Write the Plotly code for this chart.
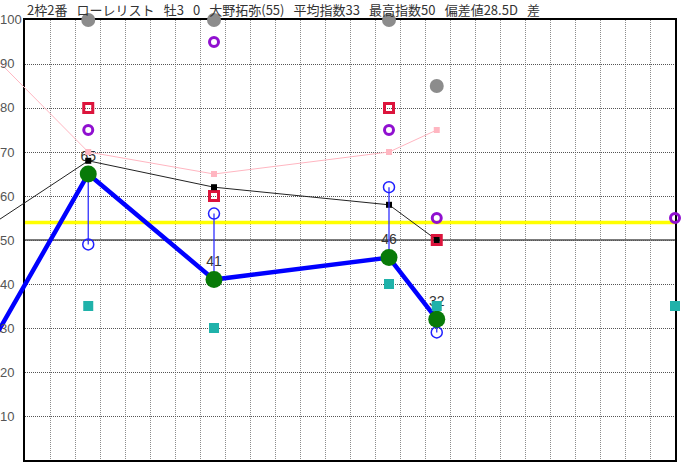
import plotly.graph_objects as go

# ---------------- data ----------------
race_x = [2.53, 7.56, 14.56, 16.47]      # race positions (grid-cell units)
prev_x = -2.0                             # previous race (off the chart, left)
edge_x = 26.0                             # right edge of the chart

index_vals = [65, 41, 46, 32]             # thick blue line / green dots
index_labels = ["65", "41", "46", "32"]
index_prev = 20
blue_open_vals = [49, 56, 62, 29]         # blue hollow circles

black_vals = [68, 62, 58, 50]
black_prev = 51
pink_vals = [70, 65, 70, 75]
pink_prev = 96

red_sq_vals = [80, 60, 80, 50]
purple_x = race_x + [edge_x]
purple_vals = [75, 95, 75, 55, 55]
teal_x = race_x + [edge_x]
teal_vals = [35, 30, 40, 35, 35]
grey_vals = [100, 100, 100, 85]

yellow_level = 54
mid_level = 50
y_ticks = [10, 20, 30, 40, 50, 60, 70, 80, 90, 100]
x_grid = list(range(0, 27))

SP = "\u2002\u2009"
title_text = SP.join(["2枠2番", "ローレリスト", "牡3", "0", "大野拓弥(55)", "平均指数33",
                      "最高指数50", "偏差値28.5D", "差"])

# ---------------- figure ----------------
W, H = 683, 462
left_px, right_px, top_px, bottom_px = 25, 675, 20, 460
ydom = [(H - bottom_px) / H, (H - top_px) / H]

fig = go.Figure()

common = dict(xaxis="x2", yaxis="y2", cliponaxis=False, hoverinfo="skip", showlegend=False)

# yellow reference line (in the framed subplot)
fig.add_trace(go.Scatter(x=[0, edge_x], y=[yellow_level, yellow_level], mode="lines",
                         line=dict(color="#ffff00", width=3.5), xaxis="x", yaxis="y",
                         hoverinfo="skip", showlegend=False))

# labels of index values (drawn early so markers overlap them)
fig.add_trace(go.Scatter(x=race_x, y=index_vals, mode="markers+text", text=index_labels,
                         textposition="top center",
                         textfont=dict(family="Liberation Sans, Arial", size=14, color="#333333"),
                         marker=dict(size=14, color="rgba(0,0,0,0)"), **common))

# pink line
fig.add_trace(go.Scatter(x=[prev_x] + race_x, y=[pink_prev] + pink_vals, mode="lines",
                         line=dict(color="#ffb6c1", width=1), **common))
fig.add_trace(go.Scatter(x=race_x, y=pink_vals, mode="markers",
                         marker=dict(symbol="square", size=6, color="#ffb6c1"), **common))

# black line
fig.add_trace(go.Scatter(x=[prev_x] + race_x, y=[black_prev] + black_vals, mode="lines",
                         line=dict(color="#222222", width=1), **common))

# red hollow squares
fig.add_trace(go.Scatter(x=race_x, y=red_sq_vals, mode="markers",
                         marker=dict(symbol="square-open", size=9, color="#dc143c",
                                     line=dict(width=3, color="#dc143c")), **common))
fig.add_trace(go.Scatter(x=race_x, y=black_vals, mode="markers",
                         marker=dict(symbol="square", size=6, color="#000000"), **common))

# thin blue connectors
cx, cy = [], []
for xv, a, b in zip(race_x, index_vals, blue_open_vals):
    cx += [xv, xv, None]
    cy += [a, b, None]
fig.add_trace(go.Scatter(x=cx, y=cy, mode="lines", line=dict(color="#3030ff", width=1.3), **common))
fig.add_trace(go.Scatter(x=race_x, y=blue_open_vals, mode="markers",
                         marker=dict(symbol="circle-open", size=11, color="#2020ff",
                                     line=dict(width=1.5, color="#2020ff")), **common))

# thick blue line
fig.add_trace(go.Scatter(x=[prev_x] + race_x, y=[index_prev] + index_vals, mode="lines",
                         line=dict(color="#0000ff", width=4.5), **common))
# green dots
fig.add_trace(go.Scatter(x=race_x, y=index_vals, mode="markers",
                         marker=dict(symbol="circle", size=17, color="#087a08"), **common))

# teal squares
fig.add_trace(go.Scatter(x=teal_x, y=teal_vals, mode="markers",
                         marker=dict(symbol="square", size=10, color="#20b2aa"), **common))
# purple rings
fig.add_trace(go.Scatter(x=purple_x, y=purple_vals, mode="markers",
                         marker=dict(symbol="circle-open", size=9, color="#9010d0",
                                     line=dict(width=3, color="#9010d0")), **common))
# grey dots
fig.add_trace(go.Scatter(x=race_x, y=grey_vals, mode="markers",
                         marker=dict(symbol="circle", size=14, color="#8c8c8c"), **common))

# solid 50 line
fig.add_shape(type="line", xref="x", yref="y", x0=0, x1=edge_x, y0=mid_level, y1=mid_level,
              line=dict(color="#505050", width=1.5), layer="below")

# y tick labels (left-aligned at the page edge)
for v in y_ticks:
    fig.add_annotation(x=0, xref="paper", xanchor="left", y=v, yref="y", yanchor="middle",
                       text=str(v), showarrow=False, borderpad=0, xshift=-1,
                       font=dict(family="Liberation Sans, Arial", size=13, color="#555555"))

fig.update_layout(
    width=W, height=H,
    margin=dict(l=0, r=0, t=0, b=0, autoexpand=False),
    paper_bgcolor="white", plot_bgcolor="rgba(0,0,0,0)",
    title=dict(text=title_text, x=27 / W, xanchor="left", y=1 - 10 / H, yanchor="middle",
               font=dict(family="Noto Sans CJK JP", size=13, color="#333333")),
    xaxis=dict(domain=[left_px / W, right_px / W], range=[0, 26], tickvals=x_grid,
               showticklabels=False, ticks="", showgrid=True, griddash="1px,1px",
               gridcolor="#8c8c8c", gridwidth=1, zeroline=False, automargin=False,
               showline=True, mirror=True, linecolor="black", linewidth=2),
    yaxis=dict(domain=ydom, range=[0, 100], tickvals=y_ticks, showticklabels=False,
               ticks="", showgrid=True, griddash="1px,1px", gridcolor="#555555", gridwidth=1,
               zeroline=False, showline=True, mirror=True, linecolor="black", linewidth=2,
               automargin=False),
    xaxis2=dict(domain=[0, right_px / W], range=[-1, 26], visible=False, automargin=False),
    yaxis2=dict(domain=ydom, range=[0, 100], anchor="x2", visible=False, automargin=False),
)

fig.write_html("out.html", config={"displayModeBar": False},
               post_script="document.body.style.margin='0px';")
